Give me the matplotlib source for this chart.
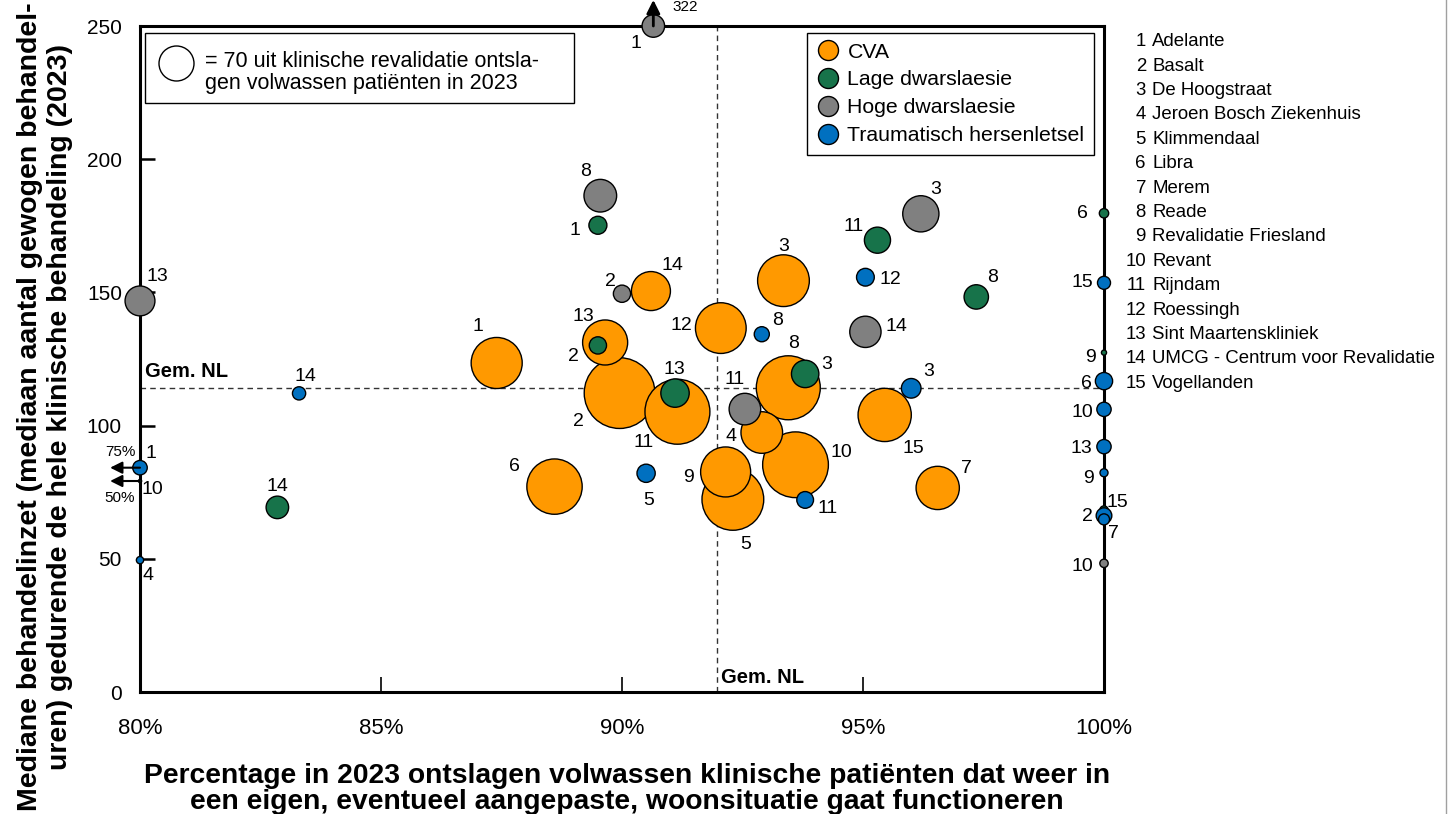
import matplotlib
matplotlib.use("Agg")
import matplotlib.pyplot as plt
from matplotlib.lines import Line2D
from matplotlib.patches import Rectangle
import numpy as np

plt.rcParams['font.family'] = ['Liberation Sans', 'DejaVu Sans']

# --- data: organisation id, % back home, median weighted hours, discharged patients ---
cva_ids = [1, 2, 3, 4, 5, 6, 7, 8, 9, 10, 11, 12, 13, 14, 15]
cva_pct = [87.4, 89.95, 93.35, 92.9, 92.3, 88.6, 96.55, 93.45, 92.15, 93.6, 91.15, 92.05, 89.65, 90.6, 95.45]
cva_hours = [123.5, 112.2, 154.4, 97.4, 72.3, 77.1, 76.6, 114.2, 82.6, 85.3, 105.2, 136.6, 131.2, 150.5, 104.0]
cva_n = [149, 286, 153, 99, 218, 175, 107, 234, 143, 247, 241, 147, 116, 87, 162]

lage_ids = [1, 2, 3, 6, 8, 9, 10, 11, 13, 14, 15]
lage_pct = [89.5, 89.5, 93.8, 100, 97.35, 100, 50, 95.3, 91.1, 82.85, 100]
lage_hours = [175.2, 130.1, 119.4, 179.7, 148.3, 127.4, 79.2, 169.6, 112.2, 69.3, 68.3]
lage_n = [18.5, 17, 43, 5, 34, 1.5, 0.6, 39, 46, 29, 4]

hoge_ids = [1, 2, 3, 8, 10, 11, 13, 14]
hoge_pct = [90.65, 90.0, 96.2, 89.55, 100, 92.55, 80.0, 95.05]
hoge_hours = [322, 149.5, 179.5, 186.3, 48.3, 106.2, 146.8, 135.2]
hoge_n = [29, 17, 75, 61, 4, 57, 51, 56]

thl_ids = [1, 2, 3, 4, 5, 6, 7, 8, 9, 10, 11, 12, 13, 14, 15]
thl_pct = [75, 100, 96.0, 80.0, 90.5, 100, 100, 92.9, 100, 100, 93.8, 95.05, 100, 83.3, 100]
thl_hours = [84.2, 66.2, 114.0, 49.5, 82.1, 116.7, 64.8, 134.3, 82.3, 106.1, 72.1, 155.7, 92.1, 112.1, 153.6]
thl_n = [12, 14, 22, 3, 19, 17, 7, 13, 3.7, 11.7, 16, 18, 11.7, 10, 9.7]

avg_pct = 91.97
avg_hours = 114.1
ref_n = 70

organisations = ["Adelante", "Basalt", "De Hoogstraat", "Jeroen Bosch Ziekenhuis",
                 "Klimmendaal", "Libra", "Merem", "Reade", "Revalidatie Friesland",
                 "Revant", "Rijndam", "Roessingh", "Sint Maartenskliniek",
                 "UMCG - Centrum voor Revalidatie", "Vogellanden"]

# label offsets (pixels, dx right / dy up) for the numbers next to bubbles
cva_offsets = {1: (-19, 36), 2: (-41, -28), 3: (0, 34), 4: (-31, -4), 5: (13, -45),
               6: (-40, 20), 7: (29, 19), 8: (5, 44), 9: (-37, -6), 10: (46, 12),
               11: (-34, -31), 12: (-39, 3), 13: (-22, 26), 14: (22, 26), 15: (29, -34)}
lage_offsets = {1: (-23, -5), 2: (-24, -11), 3: (21, 9), 6: (-22, 0), 8: (16, 19),
                9: (-14, -5), 10: (12, -8), 11: (-24, 14), 13: (-1, 24), 14: (0, 21),
                15: (13, 8)}
hoge_offsets = {1: (-17, -17), 2: (-12, 12), 3: (15, 24), 8: (-15, 24), 10: (-22, -3),
                11: (-10, 30), 13: (17, 24), 14: (31, 5)}
thl_offsets = {1: (11, 14), 2: (-17, -1), 3: (17, 17), 4: (8, -15), 5: (3, -27),
               6: (-18, -2), 7: (9, -14), 8: (16, 14), 9: (-15, -6), 10: (-22, -3),
               11: (22, -9), 12: (25, -2), 13: (-23, -2), 14: (6, 17), 15: (-22, 0)}

series = [
    ("CVA", "#FF9900", cva_ids, cva_pct, cva_hours, cva_n, cva_offsets),
    ("Lage dwarslaesie", "#17734A", lage_ids, lage_pct, lage_hours, lage_n, lage_offsets),
    ("Hoge dwarslaesie", "#808080", hoge_ids, hoge_pct, hoge_hours, hoge_n, hoge_offsets),
    ("Traumatisch hersenletsel", "#0070C0", thl_ids, thl_pct, thl_hours, thl_n, thl_offsets),
]

XMIN, XMAX, YMIN, YMAX = 80, 100, 0, 250
PX = 0.72  # points per pixel at dpi 100
SIZE_K = 9.07  # marker area (pt^2) per patient

fig = plt.figure(figsize=(14.53, 8.14), dpi=100)
ax = fig.add_axes([140 / 1453, 1 - 692 / 814, 964 / 1453, 666 / 814])
ax.set_xlim(XMIN, XMAX)
ax.set_ylim(YMIN, YMAX)

for spine in ax.spines.values():
    spine.set_linewidth(2.2)
    spine.set_zorder(2)

ax.set_xticks([80, 85, 90, 95, 100])
ax.set_xticklabels([f"{t}%" for t in [80, 85, 90, 95, 100]])
ax.set_yticks([0, 50, 100, 150, 200, 250])
ax.tick_params(axis='x', direction='in', length=11, width=1.2, pad=19, labelsize=16)
ax.tick_params(axis='y', direction='in', length=11, width=1.8, pad=13, labelsize=15)

# Gem. NL reference lines
ax.axhline(avg_hours, color='#333333', lw=1, ls=(0, (4, 3)), zorder=1)
ax.axvline(avg_pct, color='#333333', lw=1, ls=(0, (4, 3)), zorder=1)
ax.text(80.1, avg_hours + 2.5, "Gem. NL", fontsize=14.5, fontweight='bold', va='bottom', ha='left')
ax.text(avg_pct + 0.08, 2, "Gem. NL", fontsize=14.5, fontweight='bold', va='bottom', ha='left')

handles = []
for name, color, ids, pct, hours, n, offsets in series:
    pct = np.array(pct, dtype=float)
    hours = np.array(hours, dtype=float)
    n = np.array(n, dtype=float)
    xs = np.clip(pct, XMIN, XMAX)
    ys = np.clip(hours, YMIN, YMAX)
    order = np.argsort(-n)
    ax.scatter(xs[order], ys[order], s=n[order] * SIZE_K, c=color, edgecolors='black',
               linewidths=1, zorder=3, clip_on=False)
    for i, oid in enumerate(ids):
        dx, dy = offsets[oid]
        ax.annotate(str(oid), (xs[i], ys[i]), xytext=(dx * PX, dy * PX),
                    textcoords='offset points', ha='center', va='center',
                    fontsize=14, zorder=5, annotation_clip=False)
        # values outside the axis range get an arrow
        if pct[i] < XMIN:
            ax.annotate('', xy=(XMIN - 0.62, ys[i]), xytext=(XMIN, ys[i]),
                        arrowprops=dict(arrowstyle='-|>', color='black', lw=1.5,
                                        mutation_scale=18, shrinkA=0, shrinkB=0),
                        annotation_clip=False, zorder=4)
            lab_dy = 16 if hours[i] > 80 else -17
            ax.annotate(f"{pct[i]:.0f}%", (XMIN, ys[i]), xytext=(-20 * PX, lab_dy * PX),
                        textcoords='offset points', ha='center', va='center',
                        fontsize=11, annotation_clip=False)
        if hours[i] > YMAX:
            ax.annotate('', xy=(xs[i], YMAX + 9.8), xytext=(xs[i], YMAX),
                        arrowprops=dict(arrowstyle='-|>', color='black', lw=2,
                                        mutation_scale=20, shrinkA=0, shrinkB=0),
                        annotation_clip=False, zorder=4)
            ax.annotate(f"{hours[i]:.0f}", (xs[i], ys[i]), xytext=(32 * PX, 19 * PX),
                        textcoords='offset points', ha='center', va='center',
                        fontsize=11, annotation_clip=False)
    handles.append(Line2D([], [], marker='o', ls='none', markersize=14.4,
                          markerfacecolor=color, markeredgecolor='black',
                          markeredgewidth=1, label=name))

leg = ax.legend(handles=handles, loc='upper right', bbox_to_anchor=(0.9896, 0.9895),
                fontsize=15.3, frameon=True, fancybox=False, framealpha=1,
                borderaxespad=0, labelspacing=0.42, handletextpad=0.43,
                borderpad=0.45, handlelength=1.0)
leg.get_frame().set_edgecolor('black')
leg.get_frame().set_linewidth(1)

# bubble size reference box
ax.add_patch(Rectangle((0.0052, 0.8844), 0.445, 0.1051, transform=ax.transAxes,
                       facecolor='white', edgecolor='black', lw=1, zorder=4))
ax.scatter([0.0373], [0.9444], s=ref_n * SIZE_K, facecolor='white', edgecolor='black',
           lw=1, transform=ax.transAxes, zorder=5)
ax.text(0.0674, 0.9300, "= 70 uit klinische revalidatie ontsla-\ngen volwassen patiënten in 2023",
        transform=ax.transAxes, fontsize=15.5, va='center', ha='left', zorder=6,
        linespacing=1.05)

# axis titles
fig.text(0.4315, 0.031,
         "Percentage in 2023 ontslagen volwassen klinische patiënten dat weer in\n"
         "een eigen, eventueel aangepaste, woonsituatie gaat functioneren",
         ha='center', va='center', fontsize=20.3, fontweight='bold', linespacing=1.02)
fig.text(0.031, 0.5,
         "Mediane behandelinzet (mediaan aantal gewogen behandel-\n"
         "uren) gedurende de hele klinische behandeling (2023)",
         ha='center', va='center', rotation=90, fontsize=20.5, fontweight='bold',
         linespacing=1.2)

# organisation list on the right
for i, org in enumerate(organisations):
    y = 1 - (41.7 + i * 24.4) / 814
    fig.text(1146 / 1453, y, str(i + 1), ha='right', va='center', fontsize=13.4)
    fig.text(1152 / 1453, y, org, ha='left', va='center', fontsize=13.4)

fig.add_artist(Line2D([1446 / 1453, 1446 / 1453], [0, 1], transform=fig.transFigure,
                      color='#a0a0a0', lw=1))

fig.savefig("out.png", dpi=100)
